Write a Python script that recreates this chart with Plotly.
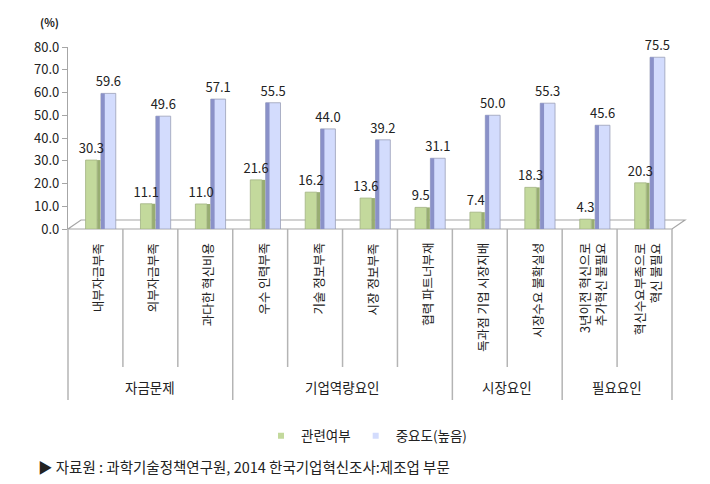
import plotly.graph_objects as go

categories = ["내부자금부족", "외부자금부족", "과다한 혁신비용", "우수 인력부족", "기술 정보부족",
              "시장 정보부족", "협력 파트너부재", "독과점 기업 시장지배", "시장수요 불확실성",
              "3년이전 혁신으로<br>추가혁신 불필요", "혁신수요부족으로<br>혁신 불필요"]
groups = ["자금문제", "기업역량요인", "시장요인", "필요요인"]
group_sizes = [3, 4, 2, 2]
related = [30.3, 11.1, 11.0, 21.6, 16.2, 13.6, 9.5, 7.4, 18.3, 4.3, 20.3]
importance = [59.6, 49.6, 57.1, 55.5, 44.0, 39.2, 31.1, 50.0, 55.3, 45.6, 75.5]
series_names = ["관련여부", "중요도(높음)"]
y_ticks = [0, 10, 20, 30, 40, 50, 60, 70, 80]

FONT = "Noto Sans CJK KR"
W, H = 710, 484
ML, MR, MT, MB = 68, 38, 47, 255
PW, PH = W - ML - MR, H - MT - MB
XMIN, XMAX = -0.5, len(categories) - 0.5

GREEN, GREEN_D = "#c3d99c", "#98ad72"
BLUE, BLUE_D = "#d3dcfd", "#8a91c8"


def xp(v):  # data x -> paper
    return (v - XMIN) / (XMAX - XMIN)


def px_x(p):  # pixel -> paper x
    return (p - ML) / PW


def px_y(p):  # pixel -> paper y
    return (H - MB - p) / PH


xs = list(range(len(categories)))
fig = go.Figure()

# blue bars (drawn first so green labels stay on top)
fig.add_trace(go.Bar(x=xs, y=importance, name=series_names[1], showlegend=False,
                     offset=0.10, width=0.27,
                     marker=dict(color=BLUE, line=dict(color="#9aa0b8", width=0.8)),
                     text=[f"{v:.1f}" for v in importance], textposition="outside",
                     constraintext="none",
                     textfont=dict(family=FONT, size=13, color="#222"), cliponaxis=False))
fig.add_trace(go.Bar(x=xs, y=importance, showlegend=False, offset=0.10, width=0.07,
                     marker=dict(color=BLUE_D, line=dict(width=0)), hoverinfo="skip"))
# green bars
fig.add_trace(go.Bar(x=xs, y=related, showlegend=False, offset=0.03, width=0.06,
                     marker=dict(color=GREEN_D, line=dict(width=0)), hoverinfo="skip"))
fig.add_trace(go.Bar(x=xs, y=related, name=series_names[0], showlegend=False,
                     offset=-0.18, width=0.21,
                     marker=dict(color=GREEN, line=dict(color="#a2b383", width=0.8)),
                     text=[f"{v:.1f}" for v in related], textposition="outside",
                     constraintext="none",
                     textfont=dict(family=FONT, size=13, color="#222"), cliponaxis=False))

# legend entries (small squares)
for nm, col in zip(series_names, [GREEN, BLUE]):
    fig.add_trace(go.Scatter(x=[None], y=[None], mode="markers", name=nm,
                             marker=dict(symbol="square", size=6, color=col)))

shapes = []
# floor
dx, dy = px_x(ML + 13) - px_x(ML), px_y(H - MB - 9) - px_y(H - MB)
fl = f"M {xp(XMIN)} 0 L {xp(XMAX)} 0 L {xp(XMAX)+dx} {dy} L {xp(XMIN)+dx} {dy} Z"
shapes.append(dict(type="path", xref="paper", yref="paper", path=fl,
                   line=dict(color="#a6a6a6", width=1.2), fillcolor="rgba(255,255,255,0)",
                   layer="below"))
# category dividers
bounds = [0]
for s in group_sizes:
    bounds.append(bounds[-1] + s)
for i in range(len(categories) + 1):
    long = i in bounds
    y_end = px_y(400) if long else px_y(367)
    shapes.append(dict(type="line", xref="paper", yref="paper", x0=xp(i - 0.5), x1=xp(i - 0.5),
                       y0=0, y1=y_end, line=dict(color="#b4b4b4", width=1.5)))

annotations = []
for i, c in enumerate(categories):
    annotations.append(dict(x=xp(i) + 0.004, y=px_y(241), xref="paper", yref="paper", text=c,
                            textangle=-90, showarrow=False, xanchor="center", yanchor="top",
                            align="right", font=dict(family=FONT, size=12.5, color="#222")))
for g, a, b in zip(groups, bounds[:-1], bounds[1:]):
    annotations.append(dict(x=xp((a + b - 1) / 2), y=px_y(387), xref="paper", yref="paper",
                            text=g, showarrow=False, xanchor="center", yanchor="middle",
                            font=dict(family=FONT, size=13.5, color="#222")))
annotations.append(dict(x=px_x(38), y=px_y(22), xref="paper", yref="paper", text="<b>(%)</b>",
                        showarrow=False, xanchor="left", yanchor="middle",
                        font=dict(family=FONT, size=11, color="#222")))
annotations.append(dict(x=px_x(36), y=px_y(467), xref="paper", yref="paper",
                        text="▶ 자료원 : 과학기술정책연구원, 2014 한국기업혁신조사:제조업 부문",
                        showarrow=False, xanchor="left", yanchor="middle",
                        font=dict(family=FONT, size=14.5, color="#222")))

fig.update_layout(
    width=W, height=H, margin=dict(l=ML, r=MR, t=MT, b=MB),
    paper_bgcolor="white", plot_bgcolor="white",
    barmode="overlay", font=dict(family=FONT, color="#222"),
    xaxis=dict(range=[XMIN, XMAX], showticklabels=False, showgrid=False, zeroline=False,
               showline=False, ticks=""),
    yaxis=dict(range=[0, 80], tickvals=y_ticks, ticktext=[f"{v:.1f}" for v in y_ticks],
               showgrid=False, zeroline=False, showline=True, linecolor="#a6a6a6", linewidth=1.2,
               ticks="outside", ticklen=5, tickcolor="#a6a6a6",
               tickfont=dict(family=FONT, size=13, color="#222")),
    legend=dict(orientation="h", x=px_x(261), y=px_y(436), xanchor="left", yanchor="middle",
                font=dict(family=FONT, size=13.5, color="#222"),
                bgcolor="rgba(0,0,0,0)"),
    shapes=shapes, annotations=annotations, showlegend=True,
)

fig.write_html("out.html")
